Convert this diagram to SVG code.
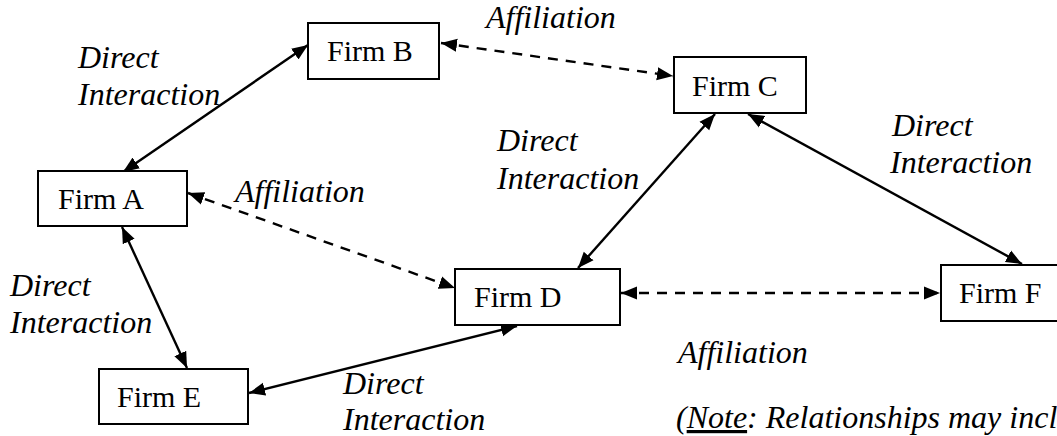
<svg xmlns="http://www.w3.org/2000/svg" width="1057" height="436" viewBox="0 0 1057 436">
<style>
.box{fill:#fff;stroke:#000;stroke-width:2}
.nt{font-family:'Liberation Serif','Times New Roman',serif;font-size:30px;fill:#000}
.lb{font-family:'Liberation Serif','Times New Roman',serif;font-size:32px;font-style:italic;font-variant-ligatures:none;fill:#000}
.c{fill:none;stroke:#000;stroke-width:2.4;marker-start:url(#ah);marker-end:url(#ah)}
.d{stroke-dasharray:10 8}
</style>
<defs>
<marker id="ah" markerUnits="userSpaceOnUse" markerWidth="18" markerHeight="14" refX="16" refY="7" orient="auto-start-reverse">
<path d="M0,0.5 L16,7 L0,13.5 z" fill="#000"/>
</marker>
</defs>
<rect width="1057" height="436" fill="#fff"/>
<g id="connectors">
<line class="c" x1="123" y1="172" x2="308" y2="45"/>
<line class="c d" x1="441" y1="43" x2="673" y2="76"/>
<line class="c" x1="578" y1="268" x2="715" y2="114"/>
<line class="c" x1="748" y1="114" x2="1022" y2="264"/>
<line class="c d" x1="188" y1="193" x2="455" y2="288"/>
<line class="c d" x1="621" y1="293" x2="940" y2="293"/>
<line class="c" x1="122" y1="227" x2="187" y2="368"/>
<line class="c" x1="249" y1="393" x2="517" y2="326"/>
</g>
<g id="labels">
<text class="lb" x="78" y="68">Direct</text>
<text class="lb" x="78" y="105">Interaction</text>
<text class="lb" x="486" y="28">Affiliation</text>
<text class="lb" x="235" y="202">Affiliation</text>
<text class="lb" x="497" y="151">Direct</text>
<text class="lb" x="497" y="189">Interaction</text>
<text class="lb" x="892" y="136">Direct</text>
<text class="lb" x="890" y="173">Interaction</text>
<text class="lb" x="10" y="296">Direct</text>
<text class="lb" x="10" y="333">Interaction</text>
<text class="lb" x="678" y="363">Affiliation</text>
<text class="lb" x="343" y="394">Direct</text>
<text class="lb" x="343" y="430">Interaction</text>
<text class="lb" x="676" y="428">(<tspan text-decoration="underline">Note</tspan>: Relationships may incl</text>
</g>
<g id="firmA"><rect class="box" x="38" y="171" width="149" height="55"/><text class="nt" x="58" y="209">Firm A</text></g>
<g id="firmB"><rect class="box" x="308" y="23" width="131" height="56"/><text class="nt" x="327" y="61">Firm B</text></g>
<g id="firmC"><rect class="box" x="674" y="57" width="132" height="56"/><text class="nt" x="692" y="96">Firm C</text></g>
<g id="firmD"><rect class="box" x="455" y="269" width="165" height="56"/><text class="nt" x="474" y="307">Firm D</text></g>
<g id="firmE"><rect class="box" x="99" y="369" width="149" height="55"/><text class="nt" x="117" y="407">Firm E</text></g>
<g id="firmF"><rect class="box" x="941" y="265" width="140" height="56"/><text class="nt" x="959" y="303">Firm F</text></g>
</svg>
